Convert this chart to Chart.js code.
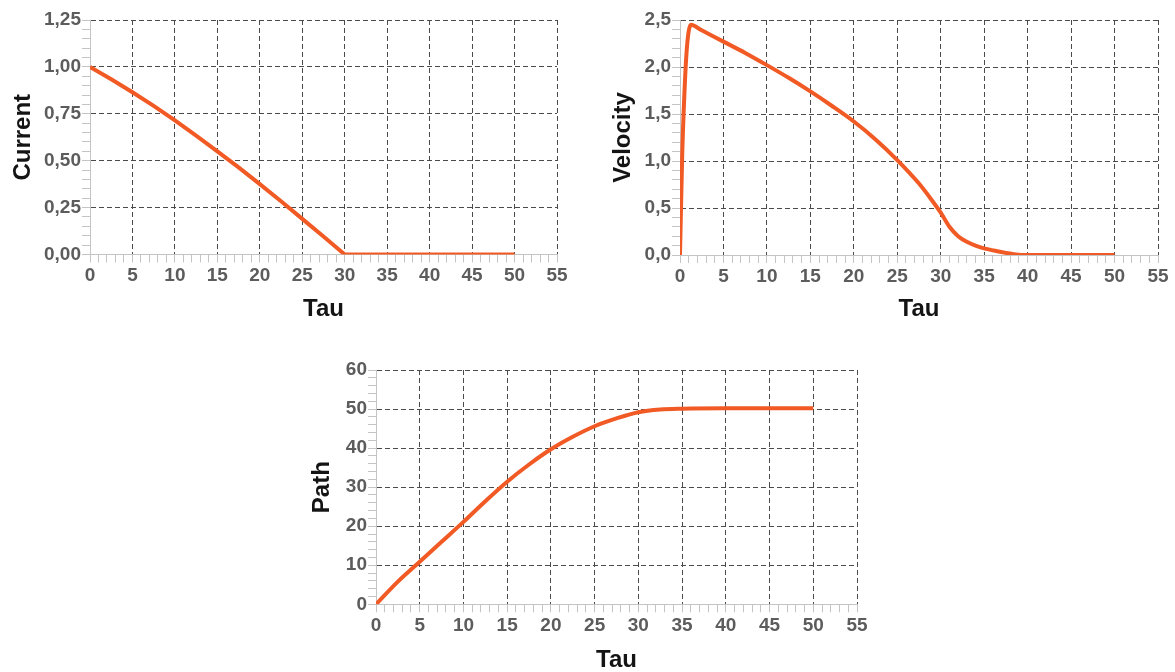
<!DOCTYPE html>
<html>
<head>
<meta charset="utf-8">
<script src="https://cdn.jsdelivr.net/npm/chart.js@4.4.0/dist/chart.umd.min.js"></script>
<style>
  html, body { margin: 0; padding: 0; background: #fff; }
  body { width: 1175px; height: 672px; position: relative; overflow: hidden; }
  canvas { position: absolute; }
</style>
</head>
<body>
<canvas id="chartCurrent" width="585" height="335" style="left:0px;top:0px"></canvas>
<canvas id="chartVelocity" width="585" height="335" style="left:590px;top:0px"></canvas>
<canvas id="chartPath" width="590" height="335" style="left:290px;top:340px"></canvas>
<script>
// values
const tauTicks = [0, 5, 10, 15, 20, 25, 30, 35, 40, 45, 50, 55];

const tauCurrent = [0, 2.5, 5, 7.5, 10, 12.5, 15, 17.5, 20, 22.5, 25, 27.5, 30, 35, 40, 45, 50];
const current = [1.0, 0.934, 0.865, 0.792, 0.715, 0.634, 0.55, 0.464, 0.375, 0.284, 0.19, 0.096, 0, 0, 0, 0, 0];
const currentTicks = [0, 0.25, 0.5, 0.75, 1.0, 1.25];

const tauVelocity = [0, 0.25, 0.5, 0.75, 1.0, 1.25, 2.5, 5, 7.5, 10, 12.5, 15, 17.5, 20, 22.5, 25, 27.5, 29, 30, 31, 32, 33, 34, 35, 36.5, 38, 39.5, 42, 45, 50];
const velocity = [0, 1.05, 1.7, 2.15, 2.38, 2.45, 2.39, 2.27, 2.15, 2.02, 1.885, 1.74, 1.585, 1.42, 1.23, 1.01, 0.76, 0.58, 0.45, 0.3, 0.2, 0.14, 0.1, 0.07, 0.04, 0.015, 0, 0, 0, 0];
const velocityTicks = [0, 0.5, 1.0, 1.5, 2.0, 2.5];

const tauPath = [0, 2.5, 5, 7.5, 10, 12.5, 15, 17.5, 20, 22.5, 25, 27.5, 30, 32.5, 35, 40, 45, 50];
const path = [0, 5.8, 10.9, 16, 21.1, 26.4, 31.4, 35.8, 39.7, 42.9, 45.6, 47.6, 49.2, 49.9, 50.1, 50.2, 50.2, 50.2];
const pathTicks = [0, 10, 20, 30, 40, 50, 60];

const lineColor = '#f15a24';
const gridColor = '#4a4a4a';
const axisColor = '#c4c4c4';
const tickFont = { family: "'Liberation Sans', Arial, sans-serif", size: 19, weight: 'bold' };
const titleFont = { family: "'Liberation Sans', Arial, sans-serif", size: 24, weight: 'bold' };

function isMajor(v, list) {
  return list.some(function (m) { return Math.abs(v - m) < 1e-6; });
}

function makeChart(id, tau, values, opts) {
  const ctx = document.getElementById(id).getContext('2d');
  const points = tau.map(function (t, i) { return { x: t, y: values[i] }; });
  return new Chart(ctx, {
    type: 'line',
    data: {
      datasets: [{
        data: points,
        borderColor: lineColor,
        borderWidth: 4,
        pointRadius: 0,
        cubicInterpolationMode: opts.smooth ? 'monotone' : 'default',
        tension: 0,
        fill: false
      }]
    },
    options: {
      responsive: false,
      animation: false,
      layout: { padding: opts.padding },
      plugins: { legend: { display: false }, tooltip: { enabled: false } },
      scales: {
        x: {
          type: 'linear',
          min: 0,
          max: 55,
          afterFit: function (scale) { scale.height = opts.xHeight; },
          ticks: {
            stepSize: 1,
            autoSkip: false,
            maxRotation: 0,
            minRotation: 0,
            padding: 2,
            color: '#5c5c5c',
            font: tickFont,
            callback: function (v) { return isMajor(v, tauTicks) ? String(v) : ''; }
          },
          grid: {
            color: function (c) {
              const v = c.tick ? c.tick.value : 0;
              return (v !== 0 && isMajor(v, tauTicks)) ? gridColor : 'rgba(0,0,0,0)';
            },
            tickColor: axisColor,
            tickLength: 8,
            tickBorderDash: [],
            lineWidth: 1
          },
          border: { color: axisColor, width: 1, dash: [5, 3] },
          title: {
            display: true,
            text: 'Tau',
            color: '#141414',
            font: titleFont,
            padding: { top: 0, bottom: opts.xTitlePad }
          }
        },
        y: {
          min: 0,
          max: opts.yMax,
          afterFit: function (scale) { scale.width = opts.yWidth; },
          ticks: {
            stepSize: opts.yStep,
            autoSkip: false,
            padding: 1,
            color: '#5c5c5c',
            font: tickFont,
            callback: function (v) {
              return isMajor(v, opts.yTicks) ? v.toFixed(opts.decimals).replace('.', ',') : '';
            }
          },
          grid: {
            color: function (c) {
              const v = c.tick ? c.tick.value : 0;
              return (v !== 0 && isMajor(v, opts.yTicks)) ? gridColor : 'rgba(0,0,0,0)';
            },
            tickColor: axisColor,
            tickLength: 8,
            tickBorderDash: [],
            lineWidth: 1
          },
          border: { color: axisColor, width: 1, dash: [5, 3] },
          title: {
            display: true,
            text: opts.yTitle,
            color: '#141414',
            font: titleFont,
            padding: { top: opts.yTitlePad, bottom: 0 }
          }
        }
      }
    }
  });
}

makeChart('chartCurrent', tauCurrent, current, {
  yTitle: 'Current', yMax: 1.25, yStep: 0.05, yTicks: currentTicks, decimals: 2, smooth: false,
  padding: { top: 20, right: 28, bottom: 0, left: 0 },
  yWidth: 90, xHeight: 80.5, xTitlePad: 11, yTitlePad: 9
});

makeChart('chartVelocity', tauVelocity, velocity, {
  yTitle: 'Velocity', yMax: 2.5, yStep: 0.1, yTicks: velocityTicks, decimals: 1, smooth: true,
  padding: { top: 20, right: 17, bottom: 0, left: 0 },
  yWidth: 90, xHeight: 80, xTitlePad: 11, yTitlePad: 19
});

makeChart('chartPath', tauPath, path, {
  yTitle: 'Path', yMax: 60, yStep: 2, yTicks: pathTicks, decimals: 0, smooth: true,
  padding: { top: 30, right: 23, bottom: 0, left: 0 },
  yWidth: 86, xHeight: 70.7, xTitlePad: 0, yTitlePad: 18
});
</script>
</body>
</html>
